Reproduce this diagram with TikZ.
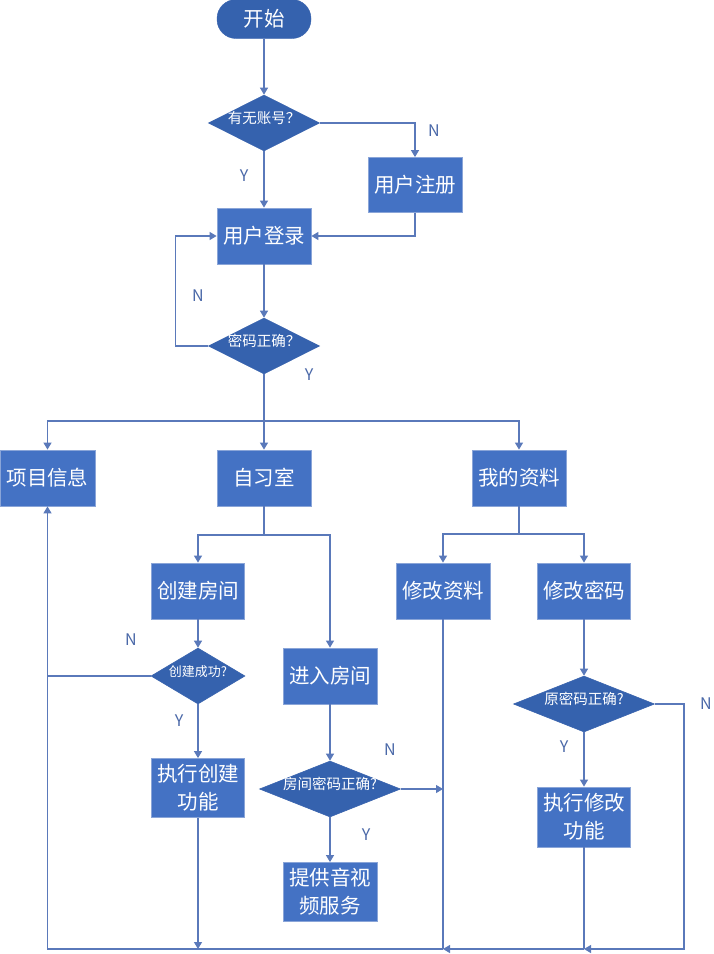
\documentclass[tikz,border=0pt]{standalone}
\usepackage{fontspec}
\setmainfont{Noto Sans CJK SC}
\usetikzlibrary{shapes.geometric,arrows.meta}
\definecolor{boxfill}{HTML}{4472C4}
\definecolor{boxedge}{HTML}{8AA5D8}
\definecolor{dfill}{HTML}{3562AE}
\definecolor{dedge}{HTML}{3A64AE}
\definecolor{lncol}{HTML}{5A79BA}
\definecolor{lbcol}{HTML}{4A68A8}
\begin{document}
\begin{tikzpicture}[x=1pt,y=-1pt,
  procbox/.style={rectangle,fill=boxfill,draw=boxedge,line width=0.8pt,text=white,
    minimum width=94pt,minimum height=56pt,inner sep=0pt,align=center,
    font=\fontsize{20.5}{28}\selectfont},
  decbox/.style={diamond,fill=dfill,draw=dedge,line width=0.6pt,text=white,
    inner sep=0pt,font=\fontsize{14.5}{16}\selectfont},
  termbox/.style={rectangle,rounded corners=19pt,fill=dfill,draw=dedge,text=white,
    minimum width=94pt,minimum height=39pt,inner sep=0pt,font=\fontsize{20.5}{24}\selectfont},
  conn/.style={draw=lncol,line width=1.1pt},
  arr/.style={conn,-{Triangle[width=8pt,length=7pt]}},
  yn/.style={text=lbcol,font=\fontsize{16}{18}\selectfont,inner sep=0pt}]
\useasboundingbox (0,0) rectangle (713,954);
\fill[white] (0,0) rectangle (713,954);
% nodes
\node[termbox] (start) at (264,19) {开始};
\node[decbox,minimum width=111pt,minimum height=56pt] (q1) at (264,123) {\smash{\makebox[0pt]{有无账号？}}};
\node[procbox,minimum height=55pt] (reg) at (415,185) {用户注册};
\node[procbox] (login) at (264,236) {用户登录};
\node[decbox,minimum width=111pt,minimum height=56pt] (q2) at (264,346) {\smash{\makebox[0pt]{密码正确？}}};
\node[procbox,minimum width=95pt] (xmxx) at (47.5,478) {项目信息};
\node[procbox] (zxs) at (264,478) {自习室};
\node[procbox] (wdzl) at (519,478) {我的资料};
\node[procbox,minimum width=93pt] (cjfj) at (198,591) {创建房间};
\node[procbox] (jrfj) at (330,676) {进入房间};
\node[decbox,minimum width=94pt,minimum height=56pt] (cjcg) at (198,676) {\smash{\makebox[0pt]{\fontsize{13}{15}\selectfont 创建成功?}}};
\node[procbox,minimum width=93pt,minimum height=59pt] (zxcj) at (198,788) {执行创建\\功能};
\node[decbox,minimum width=141pt,minimum height=56pt] (fjmm) at (330,789) {\smash{\makebox[0pt]{房间密码正确?}}};
\node[procbox,minimum height=59pt] (tgyx) at (330,892) {提供音视\\频服务};
\node[procbox] (xgzl) at (443,591) {修改资料};
\node[procbox,minimum width=93pt] (xgmm) at (584,591) {修改密码};
\node[decbox,minimum width=141pt,minimum height=56pt] (ymm) at (584,704) {\smash{\makebox[0pt]{原密码正确?}}};
\node[procbox,minimum width=93pt,minimum height=60pt] (zxxg) at (584,817) {执行修改\\功能};
% junction coordinates
\coordinate (split1) at (264,421);
\coordinate (split2) at (264,535);
\coordinate (split3) at (519,534);
\coordinate (b1) at (47.5,949);
\coordinate (b2) at (443,949);
\coordinate (b3) at (584,949);
\coordinate (b4) at (684,949);
\coordinate (zxcjend) at (198,949);
\coordinate (fjend) at (443,789);
% connectors
\draw[arr] (start) -- (q1);
\draw[arr] (q1) -- (login);
\draw[arr] (q1.east) -| (reg.north);
\draw[arr] (reg.south) |- (login.east);
\draw[arr] (login) -- (q2);
\draw[arr] (q2.west) -- ++(-33,0) |- (login.west);
\draw[conn] (q2.south) -- (split1);
\draw[arr] (split1) -| (xmxx.north);
\draw[arr] (split1) -- (zxs.north);
\draw[arr] (split1) -| (wdzl.north);
\draw[conn] (zxs.south) -- (split2);
\draw[arr] (split2) -| (cjfj.north);
\draw[arr] (split2) -| (jrfj.north);
\draw[arr] (cjfj) -- (cjcg);
\draw[conn] (cjcg.west) -- (47.5,676);
\draw[arr] (cjcg) -- (zxcj);
\draw[arr] (zxcj.south) -- (zxcjend);
\draw[arr] (jrfj) -- (fjmm);
\draw[arr] (fjmm) -- (tgyx);
\draw[arr] (fjmm.east) -- (fjend);
\draw[conn] (wdzl.south) -- (split3);
\draw[arr] (split3) -| (xgzl.north);
\draw[arr] (split3) -| (xgmm.north);
\draw[arr] (xgmm) -- (ymm);
\draw[arr] (ymm) -- (zxxg);
\draw[arr] (ymm.east) -| (b4) -- (b3);
\draw[conn] (zxxg.south) -- (b3);
\draw[arr] (b3) -- (b2);
\draw[conn] (xgzl.south) -- (b2);
\draw[arr] (b2) -- (b1) -- (xmxx.south);
% labels
\node[yn] (n1) at (434,131) {N};
\node[yn] (y1) at (244,176) {Y};
\node[yn] (n2) at (198,296) {N};
\node[yn] (y2) at (309,375) {Y};
\node[yn] (n3) at (131,640) {N};
\node[yn] (y3) at (179,721) {Y};
\node[yn] (n4) at (390,750) {N};
\node[yn] (y4) at (366,835) {Y};
\node[yn] (n5) at (706,704) {N};
\node[yn] (y5) at (564,747) {Y};
\end{tikzpicture}
\end{document}
